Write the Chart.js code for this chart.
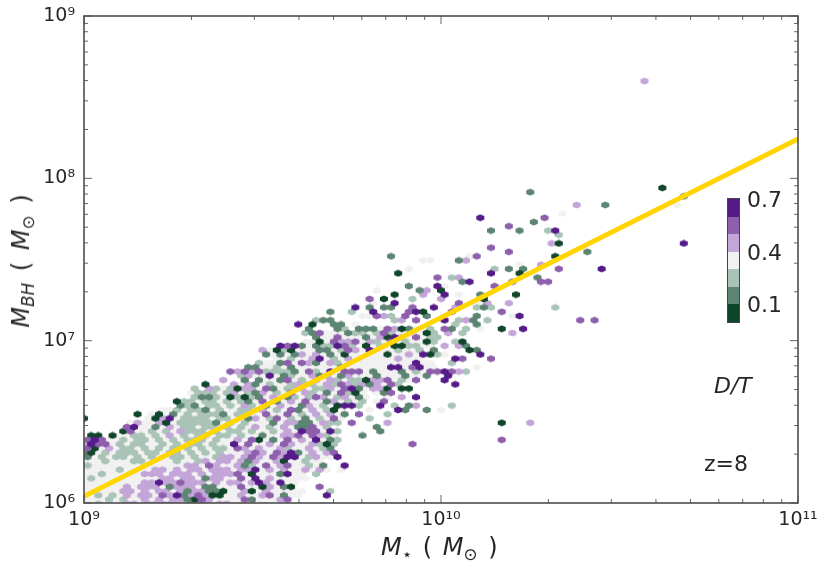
<!DOCTYPE html>
<html lang="en">
<head>
    <meta charset="UTF-8">
    <title>MBH - Mstar at z=8</title>
    <script src="https://cdn.jsdelivr.net/npm/chart.js"></script>
    <style>
        body { margin: 0; background: #fff; }
        canvas { display: block; }
        #wrap { position: relative; width: 830px; height: 573px; font-family: "DejaVu Sans"; color: #262626; }
        #wrap div { position: absolute; white-space: nowrap; }
        sub { font-size: 70%; line-height: 0; vertical-align: -0.3em; }
        #xlabel { left: 381px; top: 533px; font-size: 24px; word-spacing: 3px; }
        #ylabel { left: 21px; top: 261px; font-size: 24px; word-spacing: 4px; transform: translate(-50%, -50%) rotate(-90deg); }
        #dt { left: 714px; top: 373px; font-size: 22px; font-style: italic; }
        #zlabel { left: 704px; top: 451px; font-size: 22px; }
        .cblabel { left: 747px; font-size: 22px; }
        #colorbar { left: 727px; top: 198px; width: 11px; border: 1px solid #444; }
        #colorbar span { display: block; height: 17.5px; }
    </style>
</head>
<body>
<div id="wrap">
    <canvas id="chart" width="830" height="573"></canvas>
    <div id="xlabel"><i>M</i><sub>⋆</sub> ( <i>M</i><sub>⊙</sub> )</div>
    <div id="ylabel"><i>M<sub>BH</sub></i> ( <i>M</i><sub>⊙</sub> )</div>
    <div id="colorbar"></div>
    <div class="cblabel" style="top:187px">0.7</div>
    <div class="cblabel" style="top:240px">0.4</div>
    <div class="cblabel" style="top:292px">0.1</div>
    <div id="dt">D/T</div>
    <div id="zlabel">z=8</div>
</div>

<script>
// D/T levels of the colour bar, digit in the rows below = index in this list
const dtLevels = [0.1, 0.2, 0.3, 0.4, 0.5, 0.6, 0.7];
const dtColors = ["#0f4529", "#5d8573", "#a9c4b7", "#f1f1f1", "#c3a5d8", "#8d5fad", "#541b89"];

// fit line
const fitMstar = [1e9, 1e11];
const fitMbh = [1.1e6, 1.75e8];

const xMajor = [1e9, 1e10, 1e11];
const yMajor = [1e6, 1e7, 1e8, 1e9];
const xTickText = ["10⁹", "10¹⁰", "10¹¹"];
const yTickText = ["10⁶", "10⁷", "10⁸", "10⁹"];
const minorSteps = [2, 3, 4, 5, 6, 7, 8, 9];

// log10 of M* for the hexbin columns (even rows use even entries, odd rows odd ones)
const logMstarBins = [
    9.00,9.01,9.02,9.03,9.04,9.05,9.06,9.07,9.08,9.09,9.10,9.11,9.12,9.13,9.14,9.15,9.16,9.17,9.18,9.19,
    9.20,9.21,9.22,9.23,9.24,9.25,9.26,9.27,9.28,9.29,9.30,9.31,9.32,9.33,9.34,9.35,9.36,9.37,9.38,9.39,
    9.40,9.41,9.42,9.43,9.44,9.45,9.46,9.47,9.48,9.49,9.50,9.51,9.52,9.53,9.54,9.55,9.56,9.57,9.58,9.59,
    9.60,9.61,9.62,9.63,9.64,9.65,9.66,9.67,9.68,9.69,9.70,9.71,9.72,9.73,9.74,9.75,9.76,9.77,9.78,9.79,
    9.80,9.81,9.82,9.83,9.84,9.85,9.86,9.87,9.88,9.89,9.90,9.91,9.92,9.93
];
// log10 of MBH for each row of denseRows
const logMbhRows = [
    5.995,6.021,6.047,6.073,6.100,6.126,6.152,6.179,6.205,6.231,
    6.258,6.284,6.310,6.337,6.363,6.389,6.416,6.442,6.468,6.494,
    6.521,6.547,6.573,6.600,6.626,6.652,6.679,6.705,6.731,6.757
];
// crowded lower left, bottom row first, one digit per hex ("." = no galaxies)
const denseRows = [
    "33233 34434 44443 44434 43333 3",
    "33323 23343 43441 05433 33513 3345",
    "33232 34344 35461 45400 33433 45313 3...6",
    "33333 44343 44341 44110 33403 43333 3...2",
    "33333 34344 43144 43113 33533 04310 ...5",
    "33333 33344 64454 44343 44346 43633",
    "32333 33333 34434 43144 33536 34333 33..",
    "33233 33344 43444 34344 45303 33163 3.2",
    "33333 23333 44343 44344 43446 34343 34343 .3",
    "23333 33333 33334 43543 34123 53453 3231. .6",
    "33323 33223 33323 32434 43414 33403 3233.",
    "13232 23232 33223 23324 43454 35466 32433 6",
    "10323 22232 23223 23232 33345 43546 13434 5",
    "50343 22323 23232 32322 35434 33423 34321",
    "46553 23223 32323 22323 36353 34354 33420 2.... ..... .5",
    "56533 23223 23232 22323 34350 31353 43631 2",
    ".00.0 33223 23432 32232 23233 13344 53542 3...1",
    "..... 05332 32342 22323 22323 32343 65536 2.... .1",
    "..... .5633 13432 23223 23234 32343 11532 ..... .1",
    "..... .3433 40322 22213 23233 31344 11342 2.5.. ..4",
    "0.... ....3 04632 22232 23314 32532 31323 53... 2",
    "..... ..0.3 03132 32221 32233 53353 23434 31.5. ..2",
    "..... ..... .3323 22132 33223 43235 13432 03... 3...6 1",
    "..... ..... ...12 13223 23423 13433 14323 0662. .6.2. 14",
    "..... ..... ...02 23223 23213 53134 35331 43232 .35",
    "..... ..... ..... 21123 02021 34312 32543 24313 ..3.4 .6",
    "..... ..... ..... 32223 24321 43235 34231 35203 .315",
    "..... ..... ..... 2.423 20443 51322 43224 35613 440.0 0",
    "..... ..... ..... ..0.. .4341 32332 42234 25424 14352",
    "..... ..... ..... ....4 ..1.1 33153 23434 23220 44532 35"
];
// thinner part: [log MBH, [log M*, level, log M*, level, ...]]
const sparseRows = [
    [6.389, [10.17,5]],
    [6.494, [10.17,0, 10.25,4]],
    [6.573, [9.96,1, 10.00,3]],
    [6.600, [10.03,2]],
    [6.731, [10.04,6]],
    [6.757, [10.01,6]],
    [6.784, [9.44,2, 9.46,4, 9.52,6, 9.56,1, 9.58,2, 9.64,4, 9.66,1, 9.68,2, 9.72,1, 9.74,4, 9.82,1, 9.90,1, 9.96,1, 10.02,6]],
    [6.810, [9.41,5, 9.43,4, 9.45,5, 9.47,4, 9.49,5, 9.51,2, 9.53,2, 9.55,2, 9.57,2, 9.59,1, 9.63,5, 9.65,2, 9.69,6, 9.73,5, 9.75,5, 9.77,5, 9.81,1, 9.89,1, 9.93,2, 9.97,5, 9.99,5, 10.01,6, 10.03,5, 10.05,4, 10.07,2]],
    [6.836, [9.46,1, 9.48,1, 9.52,3, 9.54,2, 9.58,1, 9.60,3, 9.72,1, 9.80,3, 9.86,6, 9.88,6, 9.92,5, 9.94,6, 10.10,3]],
    [6.863, [9.49,2, 9.53,3, 9.55,1, 9.57,5, 9.61,5, 9.63,4, 9.65,1, 9.69,4, 9.71,2, 9.83,3, 9.93,6, 10.03,2]],
    [6.889, [9.58,2, 9.64,4, 9.66,6, 9.70,2, 9.74,4, 9.80,3, 9.88,4, 10.04,6, 10.06,5, 10.14,5]],
    [6.915, [9.51,1, 9.55,1, 9.59,1, 9.61,4, 9.65,4, 9.69,1, 9.73,0, 9.85,0, 9.91,4, 9.95,6, 9.97,0, 9.99,2, 10.01,3, 10.11,6]],
    [6.942, [9.50,4, 9.54,0, 9.56,2, 9.58,0, 9.66,1, 9.68,1, 9.72,2, 9.74,5, 9.76,4, 9.80,6, 9.88,2, 9.94,2, 9.98,1, 10.08,0, 10.10,1]],
    [6.968, [9.55,6, 9.57,5, 9.59,6, 9.61,1, 9.65,1, 9.67,2, 9.69,2, 9.71,6, 9.73,5, 9.75,2, 9.79,0, 9.83,2, 9.87,0, 9.89,0, 9.91,2, 9.93,2, 9.97,3, 10.01,4, 10.05,4, 10.07,1]],
    [6.994, [9.62,3, 9.66,0, 9.70,5, 9.72,4, 9.74,4, 9.76,5, 9.80,4, 9.82,2, 9.86,5, 9.90,2, 9.96,0, 9.98,2, 10.04,2, 10.06,0]],
    [7.021, [9.65,1, 9.71,5, 9.79,1, 9.83,4, 9.85,0, 9.87,6, 9.89,2, 9.93,5, 9.97,2, 9.99,2]],
    [7.047, [9.62,2, 9.64,1, 9.66,5, 9.74,1, 9.76,2, 9.78,2, 9.82,2, 9.84,5, 9.86,2, 9.96,0, 9.98,2, 10.02,4, 10.06,2, 10.20,4]],
    [7.073, [9.63,1, 9.71,1, 9.73,2, 9.77,1, 9.79,1, 9.81,1, 9.83,3, 9.85,5, 9.87,4, 9.89,0, 9.91,1, 9.93,3, 9.97,2, 10.01,5, 10.03,1, 10.07,2, 10.11,3, 10.17,0, 10.23,6]],
    [7.100, [9.60,6, 9.64,0, 9.70,1, 9.72,1, 9.76,3, 10.04,2, 10.10,1]],
    [7.126, [9.65,2, 9.67,1, 9.69,1, 9.87,2, 9.89,4, 9.93,5, 10.01,6, 10.05,2, 10.07,4, 10.09,1, 10.13,2, 10.39,5, 10.43,5]],
    [7.152, [9.78,3, 9.80,3, 9.82,5, 9.84,4, 9.86,2, 9.90,5, 9.96,1, 10.10,1, 10.20,3, 10.22,6]],
    [7.178, [9.69,1, 9.75,2, 9.81,6, 9.91,5, 9.93,6, 9.95,0, 10.03,5, 10.17,5]],
    [7.205, [9.76,6, 9.80,1, 9.84,1, 9.86,1, 9.92,5, 9.98,6, 10.04,4, 10.10,2, 10.12,1, 10.14,2, 10.32,2]],
    [7.231, [9.81,3, 9.87,6, 10.05,5, 10.11,3, 10.13,4, 10.19,4]],
    [7.257, [9.80,5, 9.84,0, 9.92,2, 10.00,4, 10.12,0]],
    [7.284, [9.87,0, 9.95,4, 10.01,6, 10.05,3, 10.11,1, 10.21,0]],
    [7.310, [9.82,3, 9.94,1, 9.96,4, 10.00,0]],
    [7.336, [9.91,1, 9.99,6, 10.01,3, 10.15,5]],
    [7.363, [10.06,1, 10.08,6, 10.20,5, 10.28,5, 10.30,5]],
    [7.389, [9.99,5, 10.03,2, 10.05,4, 10.27,1]],
    [7.415, [9.88,0, 10.14,6, 10.22,0]],
    [7.442, [9.91,3, 10.15,2, 10.19,1, 10.23,1, 10.33,5, 10.45,6]],
    [7.468, [10.22,3, 10.28,4]],
    [7.494, [9.95,3, 9.97,3, 10.05,1, 10.07,4]],
    [7.520, [9.86,1, 10.08,3, 10.10,5, 10.32,0]],
    [7.547, [10.19,5, 10.41,1]],
    [7.573, [10.14,5]],
    [7.599, [10.31,4, 10.33,0, 10.68,6]],
    [7.652, [10.33,2]],
    [7.678, [10.14,1, 10.22,1, 10.30,2, 10.32,6]],
    [7.705, [10.19,5]],
    [7.731, [10.26,1]],
    [7.757, [10.11,6, 10.29,5]],
    [7.784, [10.34,3]],
    [7.836, [10.38,4, 10.46,1, 10.66,3]],
    [7.889, [10.68,1]],
    [7.915, [10.25,1]],
    [7.941, [10.62,0]],
    [8.599, [10.57,4]]
];
// pale grey hexes between the coloured ones in the middle band: [log MBH, [log M*, ...]]
const greyRows = [
    [6.784, [9.48,9.50,9.54,9.60,9.62,9.70,9.76,9.78,9.80,9.84,9.86,9.88,9.92,9.94]],
    [6.810, [9.61,9.67,9.71,9.79,9.83,9.85,9.87,9.91,9.95]],
    [6.836, [9.50,9.56,9.62,9.64,9.66,9.68,9.70,9.74,9.76,9.78,9.82,9.84,9.90,9.96,9.98]],
    [6.863, [9.51,9.59,9.67,9.73,9.75,9.77,9.79,9.81,9.85,9.87,9.89,9.91,9.95,9.97]],
    [6.889, [9.54,9.56,9.60,9.62,9.68,9.72,9.76,9.78,9.82,9.84,9.86,9.90,9.92,9.94]],
    [6.915, [9.53,9.57,9.63,9.67,9.71,9.75,9.77,9.79,9.81,9.83,9.87,9.89,9.93]],
    [6.942, [9.52,9.60,9.62,9.64,9.70,9.78,9.82,9.84,9.86,9.90,9.92]],
    [6.968, [9.63,9.77,9.81,9.85,9.95]],
    [6.994, [9.64,9.68,9.78,9.84,9.88,9.92,9.94]],
    [7.021, [9.67,9.69,9.73,9.75,9.77,9.81,9.91,9.95]],
    [7.047, [9.68,9.70,9.72,9.80,9.88,9.90,9.92,9.94]]
];

function hexImage(color) {
    // matplotlib hexbin cell, a bit over the 7.14 x 5.7 lattice size because of its edge
    const c = document.createElement("canvas");
    c.width = 10;
    c.height = 8;
    const g = c.getContext("2d");
    const w = 4.0, h = 3.5;
    g.fillStyle = color;
    g.beginPath();
    g.moveTo(5, 4 - h);
    g.lineTo(5 + w, 4 - h / 2);
    g.lineTo(5 + w, 4 + h / 2);
    g.lineTo(5, 4 + h);
    g.lineTo(5 - w, 4 + h / 2);
    g.lineTo(5 - w, 4 - h / 2);
    g.closePath();
    g.fill();
    return c;
}

const cells = dtLevels.map(() => []);
denseRows.forEach((row, m) => {
    const r = row.replace(/ /g, "");
    for (let k = 0; k < r.length; k++) {
        if (r[k] === ".") continue;
        cells[+r[k]].push({ x: 10 ** logMstarBins[2 * k + m % 2], y: 10 ** logMbhRows[m] });
    }
});
sparseRows.forEach(([logMbh, list]) => {
    for (let i = 0; i < list.length; i += 2) {
        cells[list[i + 1]].push({ x: 10 ** list[i], y: 10 ** logMbh });
    }
});
greyRows.forEach(([logMbh, list]) => {
    list.forEach(x => cells[3].push({ x: 10 ** x, y: 10 ** logMbh }));
});

const datasets = [{
    label: "fit",
    data: fitMstar.map((x, i) => ({ x: x, y: fitMbh[i] })),
    showLine: true,
    borderColor: "#ffd700",
    borderWidth: 5,
    pointRadius: 0
}];
// lightest levels go last so they are painted first
[6, 5, 0, 1, 4, 2, 3].forEach(i => {
    datasets.push({
        label: "D/T " + dtLevels[i],
        data: cells[i],
        pointStyle: hexImage(dtColors[i]),
        pointRadius: 4
    });
});

// inward ticks and the frame, matplotlib style
const framePlugin = {
    id: "frame",
    afterDatasetsDraw(chart) {
        const { ctx, chartArea: a, scales } = chart;
        const tick = (px, isX, len) => {
            ctx.beginPath();
            if (isX) {
                ctx.moveTo(px, a.bottom); ctx.lineTo(px, a.bottom - len);
                ctx.moveTo(px, a.top); ctx.lineTo(px, a.top + len);
            } else {
                ctx.moveTo(a.left, px); ctx.lineTo(a.left + len, px);
                ctx.moveTo(a.right, px); ctx.lineTo(a.right - len, px);
            }
            ctx.stroke();
        };
        ctx.save();
        ctx.strokeStyle = "#666";
        ctx.lineWidth = 1;
        xMajor.forEach((v, i) => {
            tick(scales.x.getPixelForValue(v), true, 8);
            if (i < xMajor.length - 1) minorSteps.forEach(s => tick(scales.x.getPixelForValue(v * s), true, 4));
        });
        yMajor.forEach((v, i) => {
            tick(scales.y.getPixelForValue(v), false, 8);
            if (i < yMajor.length - 1) minorSteps.forEach(s => tick(scales.y.getPixelForValue(v * s), false, 4));
        });
        ctx.strokeStyle = "#4d4d4d";
        ctx.lineWidth = 1.6;
        ctx.strokeRect(a.left, a.top, a.right - a.left, a.bottom - a.top);
        ctx.restore();
    }
};

new Chart(document.getElementById("chart"), {
    type: "scatter",
    data: { datasets: datasets },
    plugins: [framePlugin],
    options: {
        responsive: false,
        animation: false,
        layout: { padding: { top: 16, right: 32 } },
        plugins: { legend: { display: false }, tooltip: { enabled: false } },
        scales: {
            x: {
                type: "logarithmic",
                min: 1e9,
                max: 1e11,
                grid: { display: false, drawTicks: false },
                border: { display: false },
                afterBuildTicks: ax => { ax.ticks = xMajor.map(v => ({ value: v })); },
                afterFit: ax => { ax.height = 70; ax.paddingLeft = 0; ax.paddingRight = 0; },
                ticks: {
                    autoSkip: false,
                    maxRotation: 0,
                    padding: 6,
                    color: "#262626",
                    font: { family: "DejaVu Sans", size: 19 },
                    callback: v => xTickText[xMajor.indexOf(v)]
                }
            },
            y: {
                type: "logarithmic",
                min: 1e6,
                max: 1e9,
                grid: { display: false, drawTicks: false },
                border: { display: false },
                afterBuildTicks: ax => { ax.ticks = yMajor.map(v => ({ value: v })); },
                afterFit: ax => { ax.width = 84; ax.paddingTop = 0; ax.paddingBottom = 0; },
                ticks: {
                    autoSkip: false,
                    padding: 9,
                    color: "#262626",
                    font: { family: "DejaVu Sans", size: 19 },
                    callback: v => yTickText[yMajor.indexOf(v)]
                }
            }
        }
    }
});

// colour bar swatches, top = highest D/T
const bar = document.getElementById("colorbar");
[...dtColors].reverse().forEach(c => {
    const s = document.createElement("span");
    s.style.background = c;
    bar.appendChild(s);
});
</script>
</body>
</html>
